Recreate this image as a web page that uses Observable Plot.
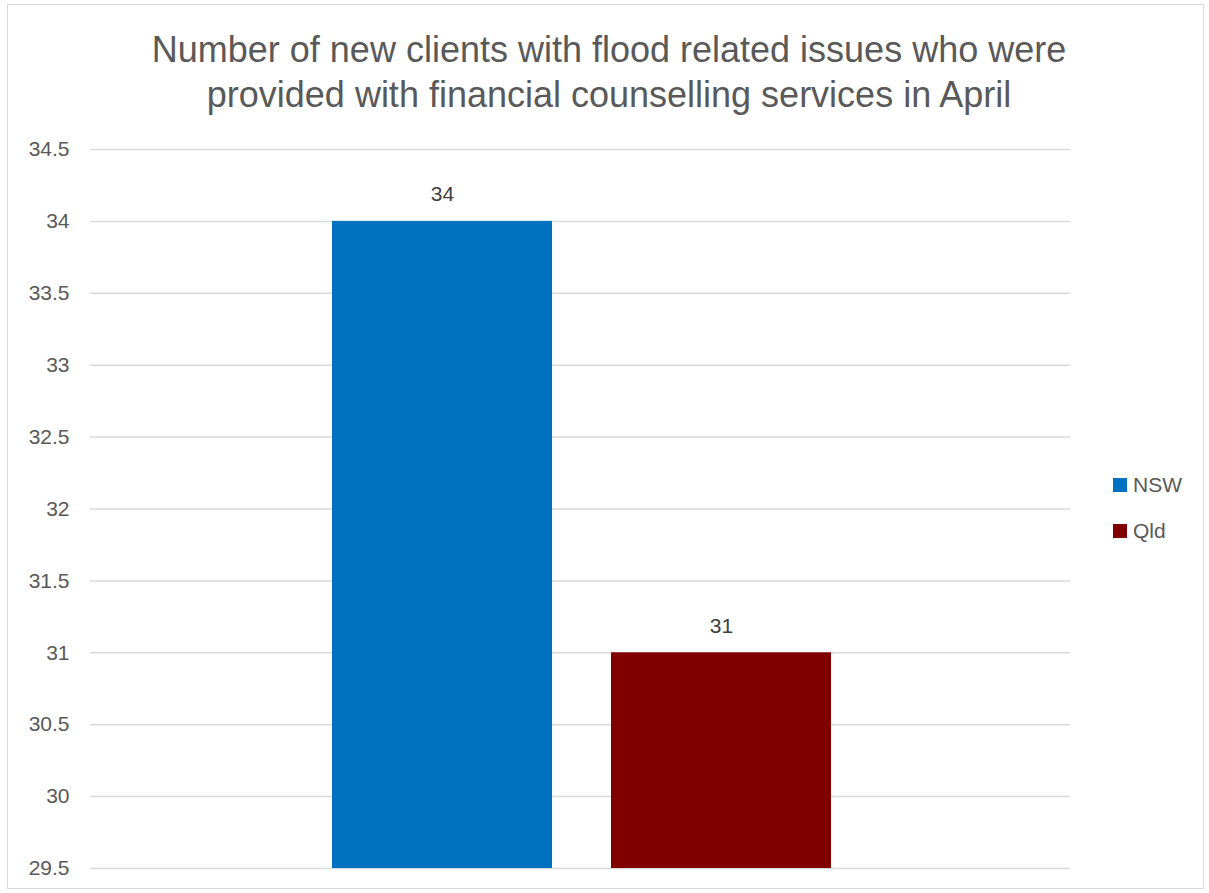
<!DOCTYPE html>
<html>
<head>
<meta charset="utf-8">
<script src="https://cdn.jsdelivr.net/npm/d3@7"></script>
<script src="https://cdn.jsdelivr.net/npm/@observablehq/plot@0.6"></script>
<style>
  html, body { margin: 0; padding: 0; background: #fff; }
  body { width: 1209px; height: 893px; position: relative; overflow: hidden; font-family: "Liberation Sans", Arial, sans-serif; }
  #frame { position: absolute; left: 7px; top: 4px; width: 1197px; height: 885px; border: 1px solid #d9d9d9; box-sizing: border-box; }
  #title { position: absolute; left: 0; top: 27px; width: 1218px; text-align: center; font-size: 36px; line-height: 45px; color: #595959; }
  #chart { position: absolute; left: 0; top: 0; }
  .legend { position: absolute; left: 1113px; font-size: 21px; color: #595959; display: flex; align-items: center; }
  .legend span.sw { display: inline-block; width: 14px; height: 14px; margin-right: 6px; }
</style>
</head>
<body>
<div id="frame"></div>
<div id="chart"></div>
<div id="title">Number of new clients with flood related issues who were<br>provided with financial counselling services in April</div>
<div id="legend"></div>
<script>
const categories = ["NSW", "Qld"];
const values = [34, 31];
const colors = ["#0070C0", "#800000"];
const yMin = 29.5, yMax = 34.5;
const yTicks = [29.5, 30, 30.5, 31, 31.5, 32, 32.5, 33, 33.5, 34, 34.5];

const data = categories.map((c, i) => ({category: c, value: values[i]}));

const plot = Plot.plot({
  width: 1209,
  height: 893,
  marginTop: 149,
  marginBottom: 25,
  marginLeft: 90,
  marginRight: 139,
  style: {fontFamily: "Liberation Sans, Arial, sans-serif", background: "transparent"},
  x: {domain: categories, range: [91.5, 1071.5], paddingInner: 0.2115, paddingOuter: 0.862, axis: null},
  y: {domain: [yMin, yMax], ticks: yTicks, label: null, tickFormat: d => String(d)},
  color: {domain: categories, range: colors},
  marks: [
    Plot.gridY(yTicks, {stroke: "#d9d9d9", strokeOpacity: 1, strokeWidth: 1.5}),
    Plot.axisY(yTicks, {tickSize: 0, tickPadding: 21, fontSize: 21, fill: "#595959", label: null, tickFormat: d => String(d)}),
    Plot.barY(data, {x: "category", y1: () => yMin, y2: "value", fill: "category"}),
    Plot.text(data, {x: "category", y: "value", text: d => String(d.value), dy: -27, fontSize: 21, fill: "#404040"})
  ]
});
document.getElementById("chart").appendChild(plot);

const legend = document.getElementById("legend");
const legendTops = [473, 519];
categories.forEach((c, i) => {
  const el = document.createElement("div");
  el.className = "legend";
  el.style.top = legendTops[i] + "px";
  el.innerHTML = `<span class="sw" style="background:${colors[i]}"></span>${c}`;
  legend.appendChild(el);
});
</script>
</body>
</html>
